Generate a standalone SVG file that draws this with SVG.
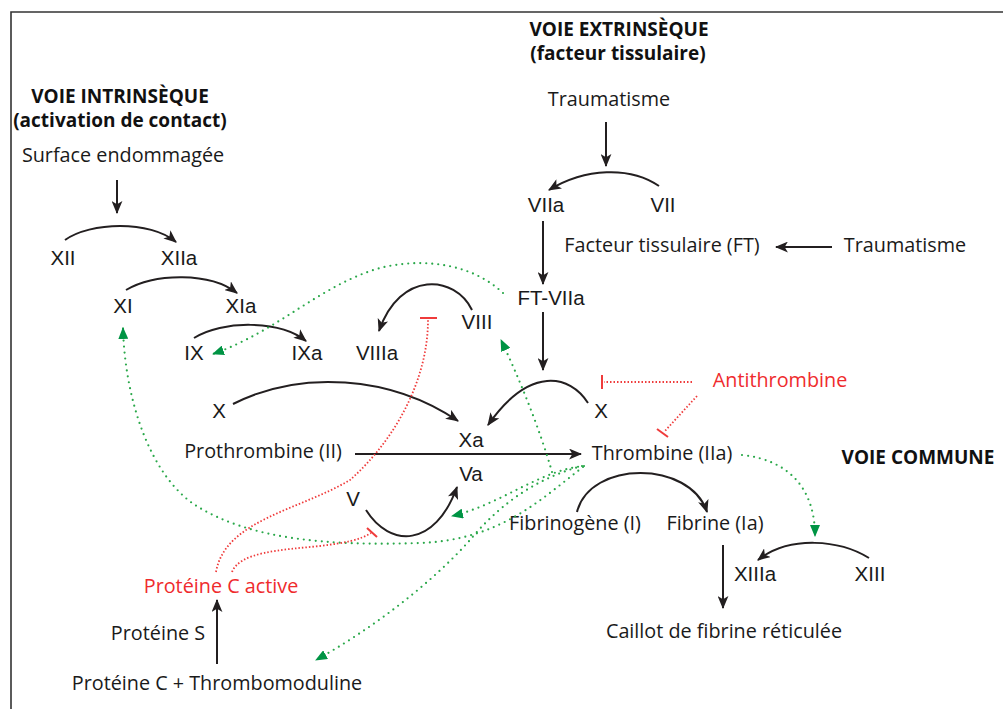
<svg xmlns="http://www.w3.org/2000/svg" width="1003" height="709" viewBox="0 0 1003 709">
<defs>
<style>
.lbl{font-family:"Open Sans","Liberation Sans",sans-serif;font-size:19.8px;fill:#1a1a1a;text-anchor:middle}
.hd{font-family:"Open Sans","Liberation Sans",sans-serif;font-size:19px;font-weight:bold;fill:#111;text-anchor:middle}
.num{font-family:"Liberation Sans",Arial,sans-serif;font-size:20.5px;fill:#1a1a1a;text-anchor:middle}
.red{fill:#ef2b2d}
.arr{fill:none;stroke:#231f20;stroke-width:2;marker-end:url(#ab)}
.grn{fill:none;stroke:#2aa84a;stroke-width:2.2;stroke-linecap:round;stroke-dasharray:0 6;marker-end:url(#ag)}
.inh{fill:none;stroke:#ef3b3b;stroke-width:1.8;stroke-dasharray:1.5 2}
.bar{fill:none;stroke:#ef3b3b;stroke-width:2}
</style>
<marker id="ab" viewBox="0 0 12 10" markerUnits="userSpaceOnUse" markerWidth="13" markerHeight="11" refX="11" refY="5" orient="auto">
<path d="M0,0 L12,5 L0,10 L3,5 z" fill="#231f20"/>
</marker>
<marker id="ag" viewBox="0 0 12 10" markerUnits="userSpaceOnUse" markerWidth="12" markerHeight="10" refX="11" refY="5" orient="auto">
<path d="M0,0 L12,5 L0,10 z" fill="#009444"/>
</marker>
</defs>
<rect width="1003" height="709" fill="#fff"/>
<path d="M11,709 V12 H1003" fill="none" stroke="#333" stroke-width="1.6"/>

<g id="titles">
<text class="hd" x="619" y="36">VOIE EXTRINSÈQUE</text>
<text class="hd" x="618" y="60">(facteur tissulaire)</text>
<text class="hd" x="120" y="103">VOIE INTRINSÈQUE</text>
<text class="hd" x="120" y="127">(activation de contact)</text>
<text class="hd" x="918" y="464">VOIE COMMUNE</text>
</g>

<g id="n-surface"><text class="lbl" x="123" y="162">Surface endommagée</text></g>
<g id="n-trauma1"><text class="lbl" x="609" y="106">Traumatisme</text></g>
<g id="n-trauma2"><text class="lbl" x="905" y="252">Traumatisme</text></g>
<g id="n-ft"><text class="lbl" x="662" y="252">Facteur tissulaire (FT)</text></g>
<g id="n-viia"><text class="num" x="546" y="212">VIIa</text></g>
<g id="n-vii"><text class="num" x="663" y="212">VII</text></g>
<g id="n-ftviia"><text class="num" x="551" y="305">FT-VIIa</text></g>
<g id="n-xii"><text class="num" x="63" y="265">XII</text></g>
<g id="n-xiia"><text class="num" x="179" y="265">XIIa</text></g>
<g id="n-xi"><text class="num" x="123" y="313">XI</text></g>
<g id="n-xia"><text class="num" x="241" y="313">XIa</text></g>
<g id="n-ix"><text class="num" x="194" y="360">IX</text></g>
<g id="n-ixa"><text class="num" x="307" y="360">IXa</text></g>
<g id="n-viiia"><text class="num" x="377" y="360">VIIIa</text></g>
<g id="n-viii"><text class="num" x="477" y="329">VIII</text></g>
<g id="n-x1"><text class="num" x="219" y="418">X</text></g>
<g id="n-x2"><text class="num" x="601" y="418">X</text></g>
<g id="n-xa"><text class="num" x="471" y="447">Xa</text></g>
<g id="n-va"><text class="num" x="471" y="481">Va</text></g>
<g id="n-v"><text class="num" x="353" y="506">V</text></g>
<g id="n-anti"><text class="lbl red" x="780" y="387">Antithrombine</text></g>
<g id="n-prothrombine"><text class="lbl" x="263" y="458">Prothrombine (II)</text></g>
<g id="n-thrombine"><text class="lbl" x="662" y="460">Thrombine (IIa)</text></g>
<g id="n-fibrinogene"><text class="lbl" x="575" y="530">Fibrinogène (I)</text></g>
<g id="n-fibrine"><text class="lbl" x="715" y="530">Fibrine (Ia)</text></g>
<g id="n-xiiia"><text class="num" x="755" y="581">XIIIa</text></g>
<g id="n-xiii"><text class="num" x="870" y="581">XIII</text></g>
<g id="n-caillot"><text class="lbl" x="724" y="638">Caillot de fibrine réticulée</text></g>
<g id="n-pca"><text class="lbl red" x="221" y="593">Protéine C active</text></g>
<g id="n-ps"><text class="lbl" x="158" y="640">Protéine S</text></g>
<g id="n-pctm"><text class="lbl" x="217" y="690">Protéine C + Thrombomoduline</text></g>

<g id="connectors">
<path class="arr" d="M117,180 V213"/>
<path class="arr" d="M606,122 V166"/>
<path class="arr" d="M832,247 H776"/>
<path class="arr" d="M543,221 V284"/>
<path class="arr" d="M543,312 V370"/>
<path class="arr" d="M355,454 H581"/>
<path class="arr" d="M723,545 V608"/>
<path class="arr" d="M217,664 V600"/>
<path class="arr" d="M65,240 C90,222 150,220 176,242"/>
<path class="arr" d="M126,290 C155,273 210,272 237,293"/>
<path class="arr" d="M194,338 C222,320 280,320 306,341"/>
<path class="arr" d="M472,310 C455,275 400,270 379,331"/>
<path class="arr" d="M233,404 C300,370 390,375 458,421"/>
<path class="arr" d="M588,403 C570,375 530,365 488,425"/>
<path class="arr" d="M659,186 C630,166 585,168 549,190"/>
<path class="arr" d="M366,510 C390,548 435,548 457,487"/>
<path class="arr" d="M577,512 C590,460 690,460 707,512"/>
<path class="arr" d="M869,558 C840,540 790,535 758,560"/>

<path class="grn" d="M503,293 C470,262 420,258 380,268 C320,285 280,330 213,354"/>
<path class="grn" d="M583,467 C540,500 500,540 420,543 C330,546 250,540 195,505 C150,475 125,400 123,328"/>
<path class="grn" d="M552,472 C540,430 520,380 501,340"/>
<path class="grn" d="M584,466 C540,470 500,505 452,516"/>
<path class="grn" d="M582,466 C530,480 495,510 470,540 C430,585 370,630 316,660"/>
<path class="grn" d="M742,455 C790,460 815,490 815,536"/>

<path class="inh" d="M692,382 H604"/>
<path class="bar" d="M602,375 V389"/>
<path class="inh" d="M697,396 L664,432"/>
<path class="bar" d="M657,429 L668,437"/>
<path class="inh" d="M216,572 C225,520 300,510 350,480 C395,440 428,380 428,320"/>
<path class="bar" d="M420,318 H437"/>
<path class="inh" d="M232,572 C240,552 280,550 320,546 C345,543 360,540 371,533"/>
<path class="bar" d="M367,528 L377,537"/>
</g>
</svg>
